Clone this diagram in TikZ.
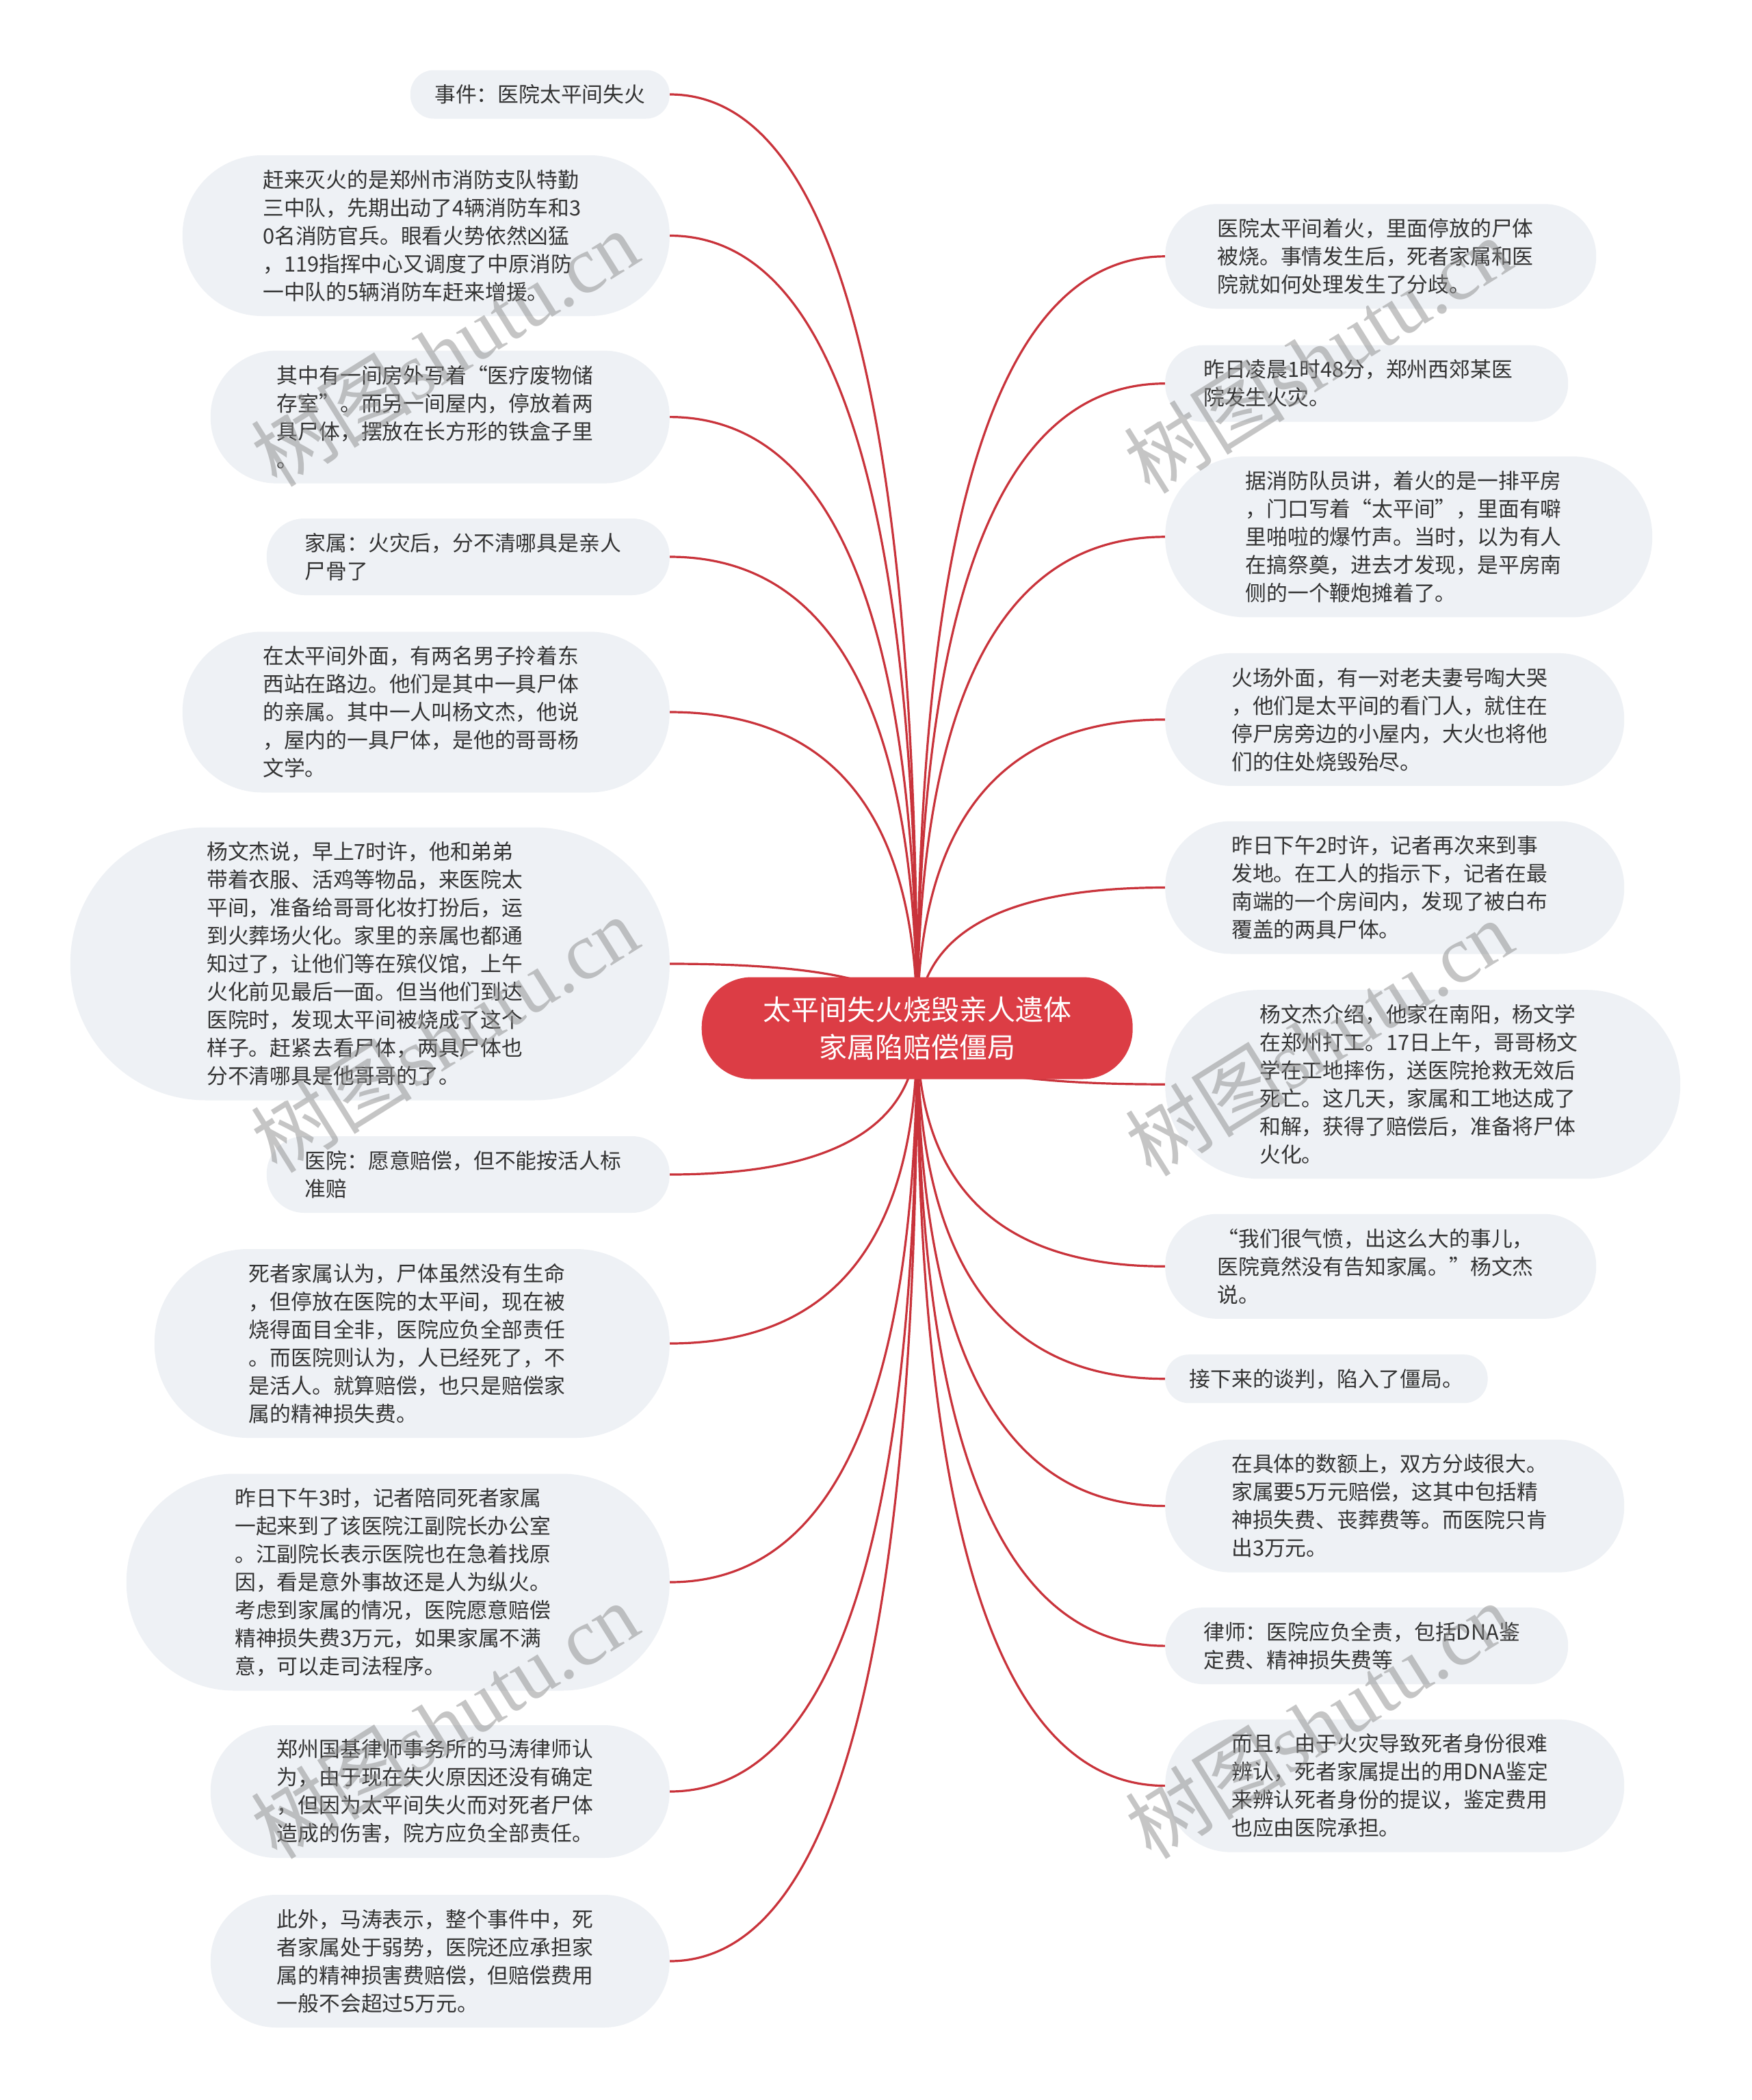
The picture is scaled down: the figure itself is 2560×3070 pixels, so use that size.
\documentclass[tikz,border=0pt]{standalone}
\usepackage{fontspec}
\newfontfamily\cjk{Noto Sans CJK SC}
\newfontfamily\wmserif{Liberation Serif}
\usetikzlibrary{calc,backgrounds}
\definecolor{boxfill}{HTML}{EEF1F5}
\definecolor{rootfill}{HTML}{DC3D45}
\definecolor{linkred}{HTML}{C9333B}
\definecolor{txt}{HTML}{333333}
\definecolor{wmgray}{HTML}{8C8C8C}
\begin{document}
\begin{tikzpicture}[x=1pt,y=-1pt,
  leaf/.style={fill=boxfill, text=txt, font=\cjk\fontsize{30.8}{41}\selectfont,
    align=left, inner ysep=0pt, minimum height={41*#1+30},
    inner xsep={(41*#1+30)/2}, rounded corners={(41*#1+30)/2-1}},
  leafL/.style={leaf=#1, text width=477, anchor=east},
  leafR/.style={leaf=#1, text width=477, anchor=west},
  oneL/.style={leaf=1, anchor=east},
  oneR/.style={leaf=1, anchor=west},
  root/.style={fill=rootfill, text=white, font=\cjk\fontsize{41}{55}\selectfont,
    align=center, inner sep=0pt, minimum width=630, minimum height=149, rounded corners=73},
  conn/.style={draw=linkred, line width=3.2pt},
  wm/.style={text=wmgray, text opacity=0.5, font=\fontsize{118}{118}\selectfont, inner sep=0pt}]
\useasboundingbox (0,0) rectangle (2560,3070);

\node[root] (ctr) at (1340.7,1503) {太平间失火烧毁亲人遗体\\家属陷赔偿僵局};

% left branch
\node[oneL] (L1) at (979,138) {事件：医院太平间失火};
\node[leafL=5] (L2) at (979,344.5) {赶来灭火的是郑州市消防支队特勤\\三中队，先期出动了4辆消防车和3\\0名消防官兵。眼看火势依然凶猛\\，119指挥中心又调度了中原消防\\一中队的5辆消防车赶来增援。};
\node[leafL=4] (L3) at (979,609.6) {其中有一间房外写着“医疗废物储\\存室”。而另一间屋内，停放着两\\具尸体，摆放在长方形的铁盒子里\\。};
\node[leafL=2] (L4) at (979,814) {家属：火灾后，分不清哪具是亲人\\尸骨了};
\node[leafL=5] (L5) at (979,1041) {在太平间外面，有两名男子拎着东\\西站在路边。他们是其中一具尸体\\的亲属。其中一人叫杨文杰，他说\\，屋内的一具尸体，是他的哥哥杨\\文学。};
\node[leafL=9] (L6) at (979,1409) {杨文杰说，早上7时许，他和弟弟\\带着衣服、活鸡等物品，来医院太\\平间，准备给哥哥化妆打扮后，运\\到火葬场火化。家里的亲属也都通\\知过了，让他们等在殡仪馆，上午\\火化前见最后一面。但当他们到达\\医院时，发现太平间被烧成了这个\\样子。赶紧去看尸体，两具尸体也\\分不清哪具是他哥哥的了。};
\node[leafL=2] (L7) at (979,1717) {医院：愿意赔偿，但不能按活人标\\准赔};
\node[leafL=6] (L8) at (979,1964) {死者家属认为，尸体虽然没有生命\\，但停放在医院的太平间，现在被\\烧得面目全非，医院应负全部责任\\。而医院则认为，人已经死了，不\\是活人。就算赔偿，也只是赔偿家\\属的精神损失费。};
\node[leafL=7] (L9) at (979,2313) {昨日下午3时，记者陪同死者家属\\一起来到了该医院江副院长办公室\\。江副院长表示医院也在急着找原\\因，看是意外事故还是人为纵火。\\考虑到家属的情况，医院愿意赔偿\\精神损失费3万元，如果家属不满\\意，可以走司法程序。};
\node[leafL=4] (L10) at (979,2619) {郑州国基律师事务所的马涛律师认\\为，由于现在失火原因还没有确定\\，但因为太平间失火而对死者尸体\\造成的伤害，院方应负全部责任。};
\node[leafL=4] (L11) at (979,2867) {此外，马涛表示，整个事件中，死\\者家属处于弱势，医院还应承担家\\属的精神损害费赔偿，但赔偿费用\\一般不会超过5万元。};

% right branch
\node[leafR=3] (R1) at (1703,374.8) {医院太平间着火，里面停放的尸体\\被烧。事情发生后，死者家属和医\\院就如何处理发生了分歧。};
\node[leafR=2] (R2) at (1703,560.7) {昨日凌晨1时48分，郑州西郊某医\\院发生火灾。};
\node[leafR=5] (R3) at (1703,784.8) {据消防队员讲，着火的是一排平房\\，门口写着“太平间”，里面有噼\\里啪啦的爆竹声。当时，以为有人\\在搞祭奠，进去才发现，是平房南\\侧的一个鞭炮摊着了。};
\node[leafR=4] (R4) at (1703,1051.9) {火场外面，有一对老夫妻号啕大哭\\，他们是太平间的看门人，就住在\\停尸房旁边的小屋内，大火也将他\\们的住处烧毁殆尽。};
\node[leafR=4] (R5) at (1703,1297.5) {昨日下午2时许，记者再次来到事\\发地。在工人的指示下，记者在最\\南端的一个房间内，发现了被白布\\覆盖的两具尸体。};
\node[leafR=6] (R6) at (1703,1585.2) {杨文杰介绍，他家在南阳，杨文学\\在郑州打工。17日上午，哥哥杨文\\学在工地摔伤，送医院抢救无效后\\死亡。这几天，家属和工地达成了\\和解，获得了赔偿后，准备将尸体\\火化。};
\node[leafR=3] (R7) at (1703,1851.3) {“我们很气愤，出这么大的事儿，\\医院竟然没有告知家属。”杨文杰\\说。};
\node[oneR] (R8) at (1703,2015.7) {接下来的谈判，陷入了僵局。};
\node[leafR=4] (R9) at (1703,2201.6) {在具体的数额上，双方分歧很大。\\家属要5万元赔偿，这其中包括精\\神损失费、丧葬费等。而医院只肯\\出3万元。};
\node[leafR=2] (R10) at (1703,2406.1) {律师：医院应负全责，包括DNA鉴\\定费、精神损失费等};
\node[leafR=4] (R11) at (1703,2610.6) {而且，由于火灾导致死者身份很难\\辨认，死者家属提出的用DNA鉴定\\来辨认死者身份的提议，鉴定费用\\也应由医院承担。};

\begin{scope}[on background layer]
\fill[white] (0,0) rectangle (2560,3070);
\foreach \n in {L1,L2,L3,L4,L5,L6,L7,L8,L9,L10,L11}
  \draw[conn] (ctr.center) .. controls ($(ctr.center)!0.6667!(ctr.center |- \n.east)$)
     and ($(\n.east)!0.6667!(ctr.center |- \n.east)$) .. (\n.east);
\foreach \n in {R1,R2,R3,R4,R5,R6,R7,R8,R9,R10,R11}
  \draw[conn] (ctr.center) .. controls ($(ctr.center)!0.6667!(ctr.center |- \n.west)$)
     and ($(\n.west)!0.6667!(ctr.center |- \n.west)$) .. (\n.west);
\end{scope}

% watermarks
\node[wm, rotate=32] (wm1) at (650,509) {\cjk 树图\wmserif shutu.cn};
\node[wm, rotate=32] (wm2) at (1926,519) {\cjk 树图\wmserif shutu.cn};
\node[wm, rotate=32] (wm3) at (650,1512) {\cjk 树图\wmserif shutu.cn};
\node[wm, rotate=32] (wm4) at (1928,1517) {\cjk 树图\wmserif shutu.cn};
\node[wm, rotate=32] (wm5) at (650,2515) {\cjk 树图\wmserif shutu.cn};
\node[wm, rotate=32] (wm6) at (1928,2515) {\cjk 树图\wmserif shutu.cn};
\end{tikzpicture}
\end{document}
